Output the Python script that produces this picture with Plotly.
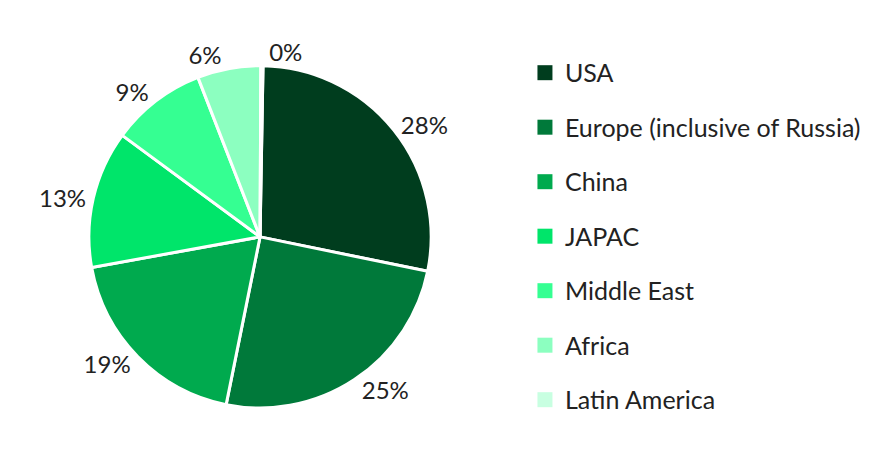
import plotly.graph_objects as go

# regional share (%)
regions = ['USA', 'Europe (inclusive of Russia)', 'China', 'JAPAC',
           'Middle East', 'Africa', 'Latin America']
shares = [28, 25, 19, 13, 9, 6, 0.2]
colors = ['#003D1E', '#00793A', '#00AA4E', '#00E56A', '#35FF92', '#8CFFC0', '#C8FFE1']

fig = go.Figure()

fig.add_trace(go.Pie(
    labels=regions,
    values=shares,
    sort=False,
    direction='clockwise',
    rotation=1,  # nudge so the tiny slice label sits right of 12 o'clock
    marker=dict(colors=colors, line=dict(color='white', width=3)),
    texttemplate='%{percent:.0%}',
    textposition='outside',
    textfont=dict(size=24, color='#222222'),
    showlegend=False,
    domain=dict(x=[0.091, 0.476], y=[0.109, 0.876]),
))

# legend entries (pie legend can't be spaced out, so use marker-only dummies)
for name, col in zip(regions, colors):
    fig.add_trace(go.Scatter(
        x=[None], y=[None], mode='markers', name=name, legendgroup=name,
        marker=dict(symbol='square', size=15, color=col),
    ))

fig.update_layout(
    width=889, height=451,
    margin=dict(l=0, r=0, t=0, b=0),
    paper_bgcolor='white', plot_bgcolor='white',
    font=dict(family='Lato, Open Sans, sans-serif', size=24, color='#222222'),
    xaxis=dict(visible=False), yaxis=dict(visible=False),
    legend=dict(x=0.5815, y=0.907, xanchor='left', yanchor='top',
                tracegroupgap=19, font=dict(size=25), itemclick=False),
)

fig.write_html("out.html")
